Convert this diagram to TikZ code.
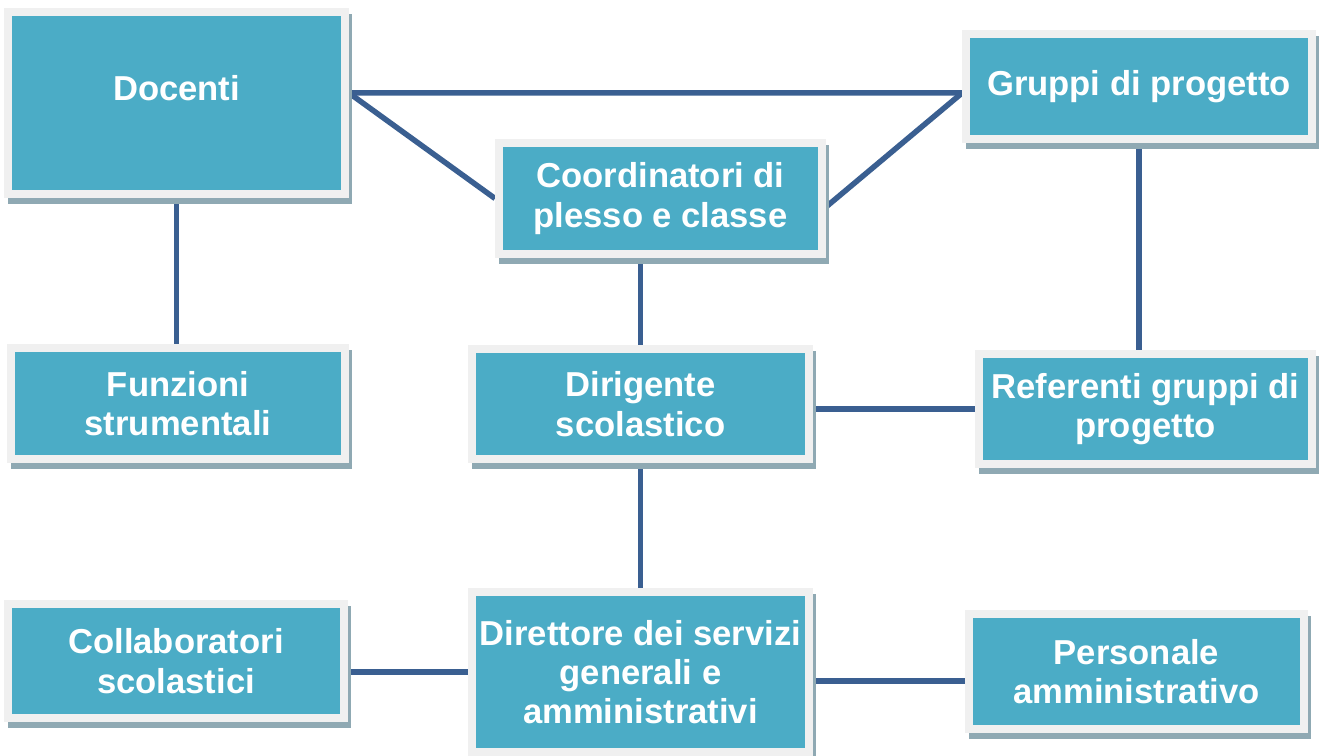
\documentclass[tikz,border=0pt]{standalone}
\usepackage{fontspec}
\setmainfont{Liberation Sans}
\usepackage{xcolor}
\usetikzlibrary{shadows,backgrounds}

\definecolor{boxfill}{RGB}{75,172,198}
\definecolor{boxrim}{RGB}{240,240,240}
\definecolor{boxshade}{RGB}{143,169,179}
\definecolor{linkblue}{RGB}{58,95,145}

\tikzset{
    box/.style={rectangle, fill=boxfill, draw=boxrim, line width=0.16cm,
        outer sep=0.08cm, inner sep=0pt, align=center, text=white,
        font=\bfseries\fontsize{19.7}{22.4}\selectfont,
        drop shadow={shadow xshift=0.07cm, shadow yshift=-0.12cm,
            fill=boxshade, draw=boxshade, line width=0.16cm, opacity=1}},
    link/.style={draw=linkblue, line width=0.11cm}
}

\begin{document}
\begin{tikzpicture}[x=0.02cm, y=-0.02cm]
        \useasboundingbox (0,0) rectangle (1321,756);
        \node[box, minimum width=6.74cm, minimum height=3.64cm, text depth=0.6cm] (Docenti) at (176.5,103) {Docenti};
        \node[box, minimum width=6.46cm, minimum height=2.22cm] (Coordinatori) at (660.5,198.5) {Coordinatori di\\plesso e classe};
        \node[box, minimum width=6.92cm, minimum height=2.10cm] (Gruppi) at (1139,86.5) {Gruppi di progetto};
        \node[box, minimum width=6.68cm, minimum height=2.22cm] (Funzioni) at (178,403.5) {Funzioni\\strumentali};
        \node[box, minimum width=6.74cm, minimum height=2.20cm] (Dirigente) at (640.5,404) {Dirigente\\scolastico};
        \node[box, minimum width=6.66cm, minimum height=2.20cm] (Referenti) at (1145.5,409) {Referenti gruppi di\\progetto};
        \node[box, minimum width=6.72cm, minimum height=2.28cm] (Collaboratori) at (176,661) {Collaboratori\\scolastici};
        \node[box, minimum width=6.74cm, minimum height=3.20cm] (Direttore) at (640.5,672) {Direttore dei servizi\\generali e\\amministrativi};
        \node[box, minimum width=6.70cm, minimum height=2.30cm] (Personale) at (1136.5,671.5) {Personale\\amministrativo};
        % collegamenti
        \begin{scope}[on background layer]
            \draw[link] ([yshift=0.2cm]Docenti.east) -- ([yshift=-0.13cm]Gruppi.west);
            \draw[link] ([yshift=0.2cm]Docenti.east) -- (Coordinatori.west);
            \draw[link] ([yshift=-0.13cm]Gruppi.west) -- ([yshift=-0.17cm]Coordinatori.east);
            \draw[link] (Docenti.south) -- (Docenti.south |- Funzioni.north);
            \draw[link] (Coordinatori.south -| Dirigente.north) -- (Dirigente.north);
            \draw[link] (Gruppi.south) -- (Gruppi.south |- Referenti.north);
            \draw[link] (Dirigente.east |- Referenti.west) -- (Referenti.west);
            \draw[link] (Dirigente.south) -- (Direttore.north);
            \draw[link] (Collaboratori.east |- Direttore.west) -- (Direttore.west);
            \draw[link] ([yshift=-0.18cm]Direttore.east) -- ([yshift=-0.18cm]Direttore.east -| Personale.west);
        \end{scope}
    \end{tikzpicture}
\end{document}
